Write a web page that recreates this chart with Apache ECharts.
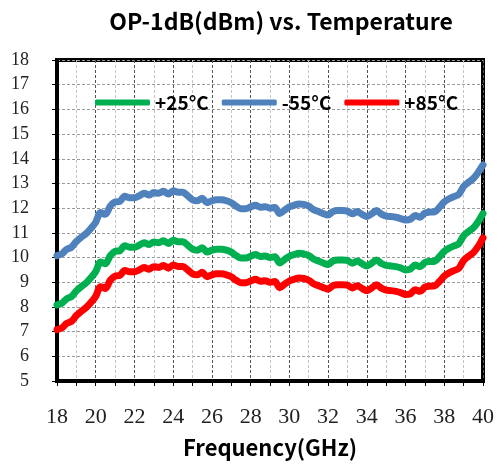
<!DOCTYPE html>
<html>
<head>
<meta charset="utf-8">
<script src="https://cdn.jsdelivr.net/npm/echarts@6/dist/echarts.min.js"></script>
<style>
  html, body { margin: 0; padding: 0; background: #fff; }
  #chart { width: 498px; height: 464px; }
</style>
</head>
<body>
<div id="chart"></div>
<script>
// frequency points (GHz)
var freq = [
  18, 18.25, 18.5, 18.75, 19, 19.25, 19.5, 19.75, 20, 20.25, 20.5, 20.75,
  21, 21.25, 21.5, 21.75, 22, 22.25, 22.5, 22.75, 23, 23.25, 23.5, 23.75,
  24, 24.25, 24.5, 24.75, 25, 25.25, 25.5, 25.75, 26, 26.25, 26.5, 26.75,
  27, 27.25, 27.5, 27.75, 28, 28.25, 28.5, 28.75, 29, 29.25, 29.5, 29.75,
  30, 30.25, 30.5, 30.75, 31, 31.25, 31.5, 31.75, 32, 32.25, 32.5, 32.75,
  33, 33.25, 33.5, 33.75, 34, 34.25, 34.5, 34.75, 35, 35.25, 35.5, 35.75,
  36, 36.25, 36.5, 36.75, 37, 37.25, 37.5, 37.75, 38, 38.25, 38.5, 38.75,
  39, 39.25, 39.5, 39.75, 40
];

// OP-1dB (dBm) at +25°C
var p25 = [
  8.08, 8.15, 8.33, 8.42, 8.65, 8.82, 8.97, 9.18, 9.43, 9.82, 9.75, 10.08,
  10.25, 10.28, 10.48, 10.42, 10.42, 10.50, 10.60, 10.53, 10.63, 10.60, 10.68, 10.57,
  10.70, 10.64, 10.64, 10.50, 10.34, 10.30, 10.40, 10.22, 10.30, 10.34, 10.34, 10.30,
  10.22, 10.08, 9.98, 9.98, 10.05, 10.12, 10.04, 10.06, 10.00, 10.03, 9.78, 9.92,
  10.05, 10.12, 10.17, 10.15, 10.08, 9.94, 9.86, 9.78, 9.72, 9.86, 9.90, 9.90,
  9.88, 9.77, 9.86, 9.75, 9.66, 9.77, 9.90, 9.76, 9.68, 9.66, 9.63, 9.58,
  9.50, 9.53, 9.70, 9.63, 9.80, 9.84, 9.85, 10.03, 10.25, 10.38, 10.47, 10.56,
  10.88, 11.05, 11.20, 11.45, 11.78
];

// OP-1dB (dBm) at -55°C
var m55 = [
  10.08, 10.15, 10.33, 10.42, 10.65, 10.82, 10.97, 11.18, 11.43, 11.82, 11.75, 12.08,
  12.25, 12.28, 12.48, 12.42, 12.42, 12.50, 12.60, 12.53, 12.63, 12.60, 12.68, 12.57,
  12.70, 12.64, 12.64, 12.50, 12.34, 12.30, 12.40, 12.22, 12.30, 12.34, 12.34, 12.30,
  12.22, 12.08, 11.98, 11.98, 12.05, 12.12, 12.04, 12.06, 12.00, 12.03, 11.78, 11.92,
  12.05, 12.12, 12.17, 12.15, 12.08, 11.94, 11.86, 11.78, 11.72, 11.86, 11.90, 11.90,
  11.88, 11.77, 11.86, 11.75, 11.66, 11.77, 11.90, 11.76, 11.68, 11.66, 11.63, 11.58,
  11.52, 11.55, 11.70, 11.63, 11.80, 11.84, 11.85, 12.03, 12.25, 12.38, 12.47, 12.56,
  12.88, 13.05, 13.20, 13.45, 13.75
];

// OP-1dB (dBm) at +85°C
var p85 = [
  7.08, 7.15, 7.33, 7.42, 7.65, 7.82, 7.97, 8.18, 8.43, 8.82, 8.75, 9.08,
  9.25, 9.28, 9.48, 9.42, 9.42, 9.50, 9.60, 9.53, 9.63, 9.60, 9.68, 9.57,
  9.70, 9.64, 9.64, 9.50, 9.34, 9.30, 9.40, 9.22, 9.30, 9.34, 9.34, 9.30,
  9.22, 9.08, 8.98, 8.98, 9.05, 9.12, 9.04, 9.06, 9.00, 9.03, 8.78, 8.92,
  9.05, 9.12, 9.17, 9.15, 9.08, 8.94, 8.86, 8.78, 8.72, 8.86, 8.90, 8.90,
  8.88, 8.77, 8.86, 8.75, 8.66, 8.77, 8.90, 8.76, 8.68, 8.66, 8.63, 8.58,
  8.50, 8.53, 8.70, 8.63, 8.80, 8.84, 8.85, 9.03, 9.25, 9.38, 9.47, 9.56,
  9.88, 10.05, 10.20, 10.45, 10.80
];

var seriesNames = ['+25°C', '-55°C', '+85°C'];
var seriesColors = ['#00b050', '#4f81bd', '#ff0000'];
var seriesValues = [p25, m55, p85];

var chart = echarts.init(document.getElementById('chart'));

var series = seriesValues.map(function (vals, i) {
    return {
        name: seriesNames[i],
        type: 'line',
        smooth: 0.3,
        showSymbol: false,
        symbol: 'none',
        lineStyle: {width: 7, color: seriesColors[i], cap: 'round', join: 'round'},
        itemStyle: {color: seriesColors[i]},
        data: freq.map(function (f, k) { return [f, vals[k]]; })
    };
});

chart.setOption({
    animation: false,
    title: {
        text: 'OP-1dB(dBm) vs. Temperature',
        left: 276,
        textAlign: 'center',
        top: 5,
        textStyle: {fontFamily: 'Noto Sans CJK SC', fontWeight: 'bold', fontSize: 23, color: '#000'}
    },
    legend: {
        data: seriesNames.map(function (n) { return {name: n, icon: 'roundRect'}; }),
        left: 90,
        top: 88,
        itemWidth: 55,
        itemHeight: 6,
        itemGap: 13,
        textStyle: {fontFamily: 'Noto Sans CJK SC', fontWeight: 'bold', fontSize: 19, color: '#000'}
    },
    grid: {
        left: 57, right: 15, top: 60, bottom: 82,
        show: true,
        borderColor: '#000',
        borderWidth: 4
    },
    xAxis: {
        type: 'value',
        min: 18, max: 40, interval: 1,
        name: 'Frequency(GHz)',
        nameLocation: 'middle',
        nameGap: 56,
        nameTextStyle: {fontFamily: 'Noto Sans CJK SC', fontWeight: 'bold', fontSize: 22, color: '#000'},
        axisLine: {show: true, lineStyle: {color: '#000', width: 4}},
        axisTick: {show: true, length: 5, lineStyle: {color: '#000', width: 1}},
        axisLabel: {
            margin: 25,
            fontFamily: 'Liberation Serif',
            fontSize: 22,
            color: '#222',
            formatter: function (v) { return v % 2 === 0 ? String(v) : ''; }
        },
        splitLine: {show: true, lineStyle: {color: ['#555', '#c4c4c4'], type: [3, 2], width: 1}}
    },
    yAxis: {
        type: 'value',
        min: 5, max: 18, interval: 1,
        axisLine: {show: true, lineStyle: {color: '#000', width: 4}},
        axisTick: {show: true, length: 5, lineStyle: {color: '#000', width: 1}},
        axisLabel: {margin: 28, fontFamily: 'Liberation Serif', fontSize: 18, color: '#222'},
        splitLine: {show: true, lineStyle: {color: '#9a9a9a', type: [3, 2], width: 1}}
    },
    series: series
});
</script>
</body>
</html>
